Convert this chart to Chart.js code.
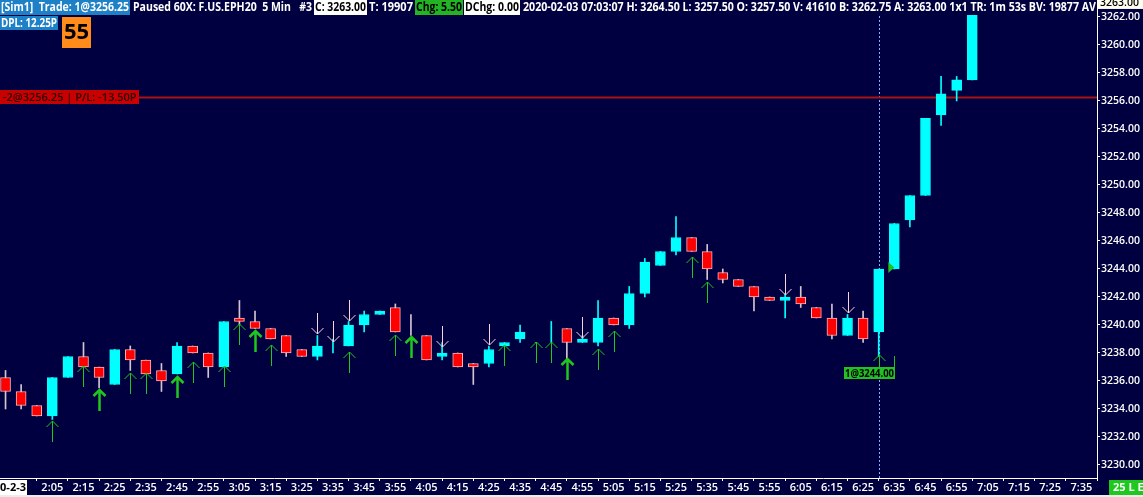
<!DOCTYPE html>
<html>
<head>
<meta charset="utf-8">
<script src="https://cdn.jsdelivr.net/npm/chart.js@4.4.1/dist/chart.umd.min.js"></script>
<style>
  html, body { margin: 0; padding: 0; background: #000040; overflow: hidden; }
  #wrap { width: 1143px; height: 497px; }
</style>
</head>
<body>
<div id="wrap"><canvas id="chart" width="1143" height="497"></canvas></div>
<script>
// 5 minute bar slots shown on the x axis
const times = [
  '1:50','1:55',
  '2:00','2:05','2:10','2:15','2:20','2:25','2:30','2:35','2:40','2:45','2:50','2:55',
  '3:00','3:05','3:10','3:15','3:20','3:25','3:30','3:35','3:40','3:45','3:50','3:55',
  '4:00','4:05','4:10','4:15','4:20','4:25','4:30','4:35','4:40','4:45','4:50','4:55',
  '5:00','5:05','5:10','5:15','5:20','5:25','5:30','5:35','5:40','5:45','5:50','5:55',
  '6:00','6:05','6:10','6:15','6:20','6:25','6:30','6:35','6:40','6:45','6:50','6:55',
  '7:00','7:05','7:10','7:15','7:20','7:25','7:30','7:35','7:40'
];
const tickTimes = [
  '2:05','2:15','2:25','2:35','2:45','2:55','3:05','3:15','3:25','3:35','3:45','3:55',
  '4:05','4:15','4:25','4:35','4:45','4:55','5:05','5:15','5:25','5:35','5:45','5:55',
  '6:05','6:15','6:25','6:35','6:45','6:55','7:05','7:15','7:25','7:35'
];
const priceTicks = [3230, 3232, 3234, 3236, 3238, 3240, 3242, 3244, 3246, 3248,
  3250, 3252, 3254, 3256, 3258, 3260, 3262];

// OHLC, one entry per bar starting at 1:50
const opens = [
  3236.25, 3235.25, 3234.25, 3233.5, 3236.25, 3237.75, 3237.0, 3235.75, 3238.25, 3237.5,
  3236.75, 3236.5, 3238.5, 3238.0, 3237.0, 3240.5, 3240.25, 3239.75, 3239.25, 3238.25,
  3237.75, 3238.75, 3238.5, 3240.0, 3240.75, 3241.25, 3239.25, 3239.25, 3237.75, 3238.0,
  3237.25, 3237.25, 3238.5, 3239.0, 3238.75, 3238.75, 3239.75, 3238.75, 3238.75, 3240.5,
  3240.0, 3242.25, 3244.25, 3245.25, 3246.25, 3245.25, 3243.75, 3243.25, 3242.75, 3242.0,
  3241.75, 3242.0, 3241.25, 3240.5, 3239.25, 3240.5, 3239.5, 3244.0, 3247.5, 3249.25,
  3255.0, 3256.75, 3257.5
];
const highs = [
  3236.75, 3235.75, 3234.25, 3236.25, 3237.75, 3238.75, 3237.0, 3238.25, 3238.5, 3237.5,
  3237.25, 3238.75, 3238.5, 3238.0, 3240.25, 3241.75, 3241.0, 3239.75, 3239.25, 3238.25,
  3239.25, 3239.0, 3240.25, 3241.0, 3241.0, 3241.5, 3240.75, 3239.25, 3238.75, 3238.0,
  3237.25, 3238.5, 3238.75, 3240.0, 3238.75, 3240.25, 3239.75, 3239.25, 3241.75, 3240.5,
  3242.75, 3244.75, 3245.25, 3247.75, 3246.25, 3245.75, 3244.0, 3243.25, 3242.75, 3242.0,
  3242.25, 3242.75, 3241.25, 3241.5, 3240.75, 3241.0, 3244.0, 3247.25, 3249.25, 3254.75,
  3257.75, 3257.75, 3264.5
];
const lows = [
  3234.0, 3234.0, 3233.5, 3233.25, 3236.25, 3237.0, 3235.5, 3235.75, 3236.75, 3236.5,
  3235.25, 3236.5, 3238.0, 3236.25, 3237.0, 3240.0, 3239.75, 3239.0, 3237.75, 3237.75,
  3237.5, 3238.0, 3238.5, 3239.5, 3240.75, 3239.5, 3239.25, 3237.5, 3237.5, 3237.0,
  3235.75, 3237.0, 3238.5, 3238.75, 3238.75, 3238.75, 3237.5, 3238.75, 3238.5, 3240.0,
  3239.75, 3242.0, 3244.25, 3245.0, 3245.25, 3243.25, 3243.0, 3242.75, 3241.0, 3241.75,
  3240.5, 3241.25, 3240.5, 3239.0, 3239.25, 3238.75, 3237.75, 3244.0, 3247.0, 3249.25,
  3254.25, 3256.0, 3257.5
];
const closes = [
  3235.25, 3234.25, 3233.5, 3236.25, 3237.75, 3237.0, 3236.25, 3238.25, 3237.5, 3236.5,
  3236.0, 3238.5, 3238.0, 3237.0, 3240.25, 3240.25, 3239.75, 3239.0, 3238.0, 3237.75,
  3238.5, 3238.75, 3240.0, 3240.75, 3241.0, 3239.5, 3239.25, 3237.5, 3238.0, 3237.0,
  3237.0, 3238.25, 3238.75, 3239.5, 3238.75, 3238.75, 3238.75, 3239.0, 3240.5, 3240.0,
  3242.25, 3244.5, 3245.25, 3246.25, 3245.25, 3244.0, 3243.25, 3242.75, 3242.0, 3241.75,
  3242.0, 3241.5, 3240.5, 3239.25, 3240.5, 3239.0, 3244.0, 3247.25, 3249.25, 3254.75,
  3256.5, 3257.5, 3263.0
];

// signal arrows: bar time and price at the arrow tip
const upArrowTimes = ['2:05','2:15','2:20','2:30','2:35','2:45','2:50','3:00','3:05','3:10',
  '3:15','3:40','3:55','4:00','4:30','4:40','4:45','4:50','5:00','5:05','5:30','5:35','6:30'];
const upArrowTips = [3233.15, 3237.05, 3235.35, 3236.6, 3236.6, 3236.3, 3237.35, 3237.05, 3240.1, 3239.6,
  3238.55, 3238.1, 3239.3, 3239.15, 3238.6, 3238.8, 3238.8, 3237.6, 3238.25, 3239.6, 3244.85, 3243.1, 3237.85];
const upArrowStrong = ['2:20','2:45','3:10','4:00','4:50'];
const downArrowTimes = ['3:30','3:35','3:40','4:10','4:25','4:55','6:00','6:20'];
const downArrowTips = [3239.35, 3238.8, 3240.3, 3238.45, 3238.6, 3239.1, 3242.15, 3240.85];

// trade info
const positionPrice = 3256.25;
const positionText = '-2@3256.25 | P/L: -13.50P';
const fillTime = '6:30';
const fillPrice = 3244.00;
const fillText = '1@3244.00';
const fillTipPrice = 3237.85;
const entryTime = '6:35';
const lastPrice = 3263.00;

const NAVY = '#000040';
const UP = '#00ffff';
const DOWN = '#ff0000';
const FONT = '"Open Sans", "Noto Sans", sans-serif';

function isUp(i) {
  if (closes[i] !== opens[i]) return closes[i] > opens[i];
  return i === 0 || closes[i] >= closes[i - 1];
}
const idx = t => times.indexOf(t);

const bodyData = opens.map((o, i) => ({ x: i, y: [o, closes[i]] }));
const wickData = opens.map((o, i) => ({ x: i, y: [lows[i], highs[i]] }));
const bodyColors = opens.map((o, i) => isUp(i) ? UP : DOWN);
const bodyBorders = opens.map((o, i) => isUp(i) ? UP : '#ffb4bc');
const wickColors = opens.map((o, i) => isUp(i) ? UP : '#d4c4d0');

const background = {
  id: 'background',
  beforeDraw(chart) {
    const ctx = chart.ctx;
    ctx.save();
    ctx.fillStyle = NAVY;
    ctx.fillRect(0, 0, chart.width, chart.height);
    ctx.fillStyle = '#ececec';
    ctx.fillRect(0, chart.height - 2, chart.width, 2);
    ctx.restore();
  }
};

const underlay = {
  id: 'underlay',
  beforeDatasetsDraw(chart) {
    const { ctx, chartArea: a, scales: { x, y } } = chart;
    ctx.save();
    // fill time marker
    const fx = Math.round(x.getPixelForValue(idx(fillTime))) + 0.5;
    ctx.strokeStyle = '#7fb2ff';
    ctx.lineWidth = 1;
    ctx.setLineDash([2, 2]);
    ctx.beginPath();
    ctx.moveTo(fx, a.top);
    ctx.lineTo(fx, a.bottom);
    ctx.stroke();
    ctx.setLineDash([]);
    // open position line
    const py = y.getPixelForValue(positionPrice);
    ctx.strokeStyle = '#a81414';
    ctx.lineWidth = 2;
    ctx.beginPath();
    ctx.moveTo(a.left, py);
    ctx.lineTo(a.right, py);
    ctx.stroke();
    ctx.restore();
  }
};

const overlay = {
  id: 'overlay',
  afterDatasetsDraw(chart) {
    const { ctx, scales: { x, y } } = chart;
    ctx.save();
    ctx.lineCap = 'butt';
    upArrowTimes.forEach((t, k) => {
      const px = Math.round(x.getPixelForValue(idx(t))) + 0.5;
      const py = Math.round(y.getPixelForValue(upArrowTips[k]));
      ctx.strokeStyle = '#1ec81e';
      ctx.lineWidth = upArrowStrong.includes(t) ? 2.5 : 1;
      ctx.beginPath();
      ctx.moveTo(px, py);
      ctx.lineTo(px, py + 21);
      ctx.moveTo(px - 6, py + 6);
      ctx.lineTo(px, py);
      ctx.lineTo(px + 6, py + 6);
      ctx.stroke();
    });
    downArrowTimes.forEach((t, k) => {
      const px = Math.round(x.getPixelForValue(idx(t))) + 0.5;
      const py = Math.round(y.getPixelForValue(downArrowTips[k]));
      ctx.strokeStyle = '#ffd2e2';
      ctx.lineWidth = 1;
      ctx.beginPath();
      ctx.moveTo(px, py);
      ctx.lineTo(px, py - 21);
      ctx.moveTo(px - 6, py - 6);
      ctx.lineTo(px, py);
      ctx.lineTo(px + 6, py - 6);
      ctx.stroke();
    });

    // entry triangle
    const ex = x.getPixelForValue(idx(entryTime));
    const ey = y.getPixelForValue(fillPrice);
    ctx.fillStyle = '#22c022';
    ctx.beginPath();
    ctx.moveTo(ex - 6, ey - 7);
    ctx.lineTo(ex - 6, ey + 4);
    ctx.lineTo(ex, ey - 1.5);
    ctx.closePath();
    ctx.fill();

    // fill label with flag pole
    const tipY = y.getPixelForValue(fillTipPrice);
    const right = Math.round(ex) + 1;
    const top = Math.round(tipY) + 12;
    ctx.strokeStyle = '#22c022';
    ctx.lineWidth = 1;
    ctx.beginPath();
    ctx.moveTo(right - 0.5, tipY + 1);
    ctx.lineTo(right - 0.5, top);
    ctx.stroke();
    ctx.fillStyle = '#22c022';
    ctx.fillRect(right - 51, top, 51, 12);
    ctx.fillStyle = '#000';
    ctx.font = 'bold 11px ' + FONT;
    ctx.textAlign = 'center';
    ctx.textBaseline = 'middle';
    ctx.fillText(fillText, right - 25.5, top + 6.5, 49);

    // position label
    const py = y.getPixelForValue(positionPrice);
    ctx.fillStyle = '#c80000';
    ctx.fillRect(0, Math.round(py) - 7, 139, 14);
    ctx.fillStyle = '#2a0000';
    ctx.font = '600 11px ' + FONT;
    ctx.textAlign = 'left';
    ctx.fillText(positionText, 3, Math.round(py) + 0.5, 134);
    ctx.restore();
  }
};

function box(ctx, x0, y0, w, h, bg, fg, text, font) {
  if (bg) {
    ctx.fillStyle = bg;
    ctx.fillRect(x0, y0, w, h);
  }
  ctx.fillStyle = fg;
  ctx.font = font;
  ctx.textAlign = 'left';
  ctx.textBaseline = 'middle';
  ctx.fillText(text, x0 + 1, y0 + h / 2 + 0.5, w - 2);
}

const header = {
  id: 'header',
  afterDraw(chart) {
    const { ctx, chartArea: a, scales: { y } } = chart;
    const f = 'bold 12px ' + FONT;
    ctx.save();
    ctx.fillStyle = NAVY;
    ctx.fillRect(0, 0, a.right, 15);
    box(ctx, 0, 0, 130, 15, '#1e80c6', '#ffffff', '[Sim1]  Trade: 1@3256.25', f);
    box(ctx, 132, 0, 181, 15, null, '#ffffff', 'Paused 60X: F.US.EPH20  5 Min   #3', f);
    box(ctx, 314, 0, 53, 15, '#ffffff', '#000000', 'C: 3263.00', f);
    box(ctx, 368, 0, 46, 15, null, '#ffffff', 'T: 19907', f);
    box(ctx, 415, 0, 48, 15, '#22b422', '#000000', 'Chg: 5.50', f);
    box(ctx, 464, 0, 56, 15, '#ffffff', '#000000', 'DChg: 0.00', f);
    box(ctx, 522, 0, 575, 15, null, '#ffffff',
      '2020-02-03 07:03:07 H: 3264.50 L: 3257.50 O: 3257.50 V: 41610 B: 3262.75 A: 3263.00 1x1 TR: 1m 53s BV: 19877 AV', f);
    box(ctx, 0, 16, 58, 14, '#1e80c6', '#ffffff', 'DPL: 12.25P', f);
    ctx.fillStyle = '#ff8c1a';
    ctx.fillRect(62, 17, 29, 31);
    ctx.fillStyle = '#000';
    ctx.font = 'bold 22px ' + FONT;
    ctx.textAlign = 'center';
    ctx.textBaseline = 'middle';
    ctx.fillText('55', 76.5, 33);

    // last price on the axis
    const ly = y.getPixelForValue(lastPrice);
    ctx.fillStyle = '#fffff0';
    ctx.fillRect(a.right + 1, ly - 7, chart.width - a.right - 1, 13);
    ctx.fillStyle = '#000';
    ctx.font = '600 10.5px ' + FONT;
    ctx.textAlign = 'left';
    ctx.fillText(lastPrice.toFixed(2), a.right + 3, ly);

    // date and status boxes on the time axis
    ctx.fillStyle = '#ffffff';
    ctx.fillRect(0, a.bottom + 2, 27, 15);
    ctx.fillStyle = '#000';
    ctx.font = 'bold 11px ' + FONT;
    ctx.textAlign = 'right';
    ctx.fillText('2020-2-3', 26, a.bottom + 10);
    ctx.fillStyle = '#1ec81e';
    ctx.fillRect(1109, a.bottom + 2, chart.width - 1109, 15);
    ctx.fillStyle = '#fff';
    ctx.textAlign = 'left';
    ctx.fillText('25 L E', 1113, a.bottom + 10);
    ctx.restore();
  }
};

new Chart(document.getElementById('chart'), {
  type: 'bar',
  data: {
    datasets: [
      {
        data: wickData,
        backgroundColor: wickColors,
        borderWidth: 0,
        barThickness: 1,
        grouped: false,
        order: 2
      },
      {
        data: bodyData,
        backgroundColor: bodyColors,
        borderColor: bodyBorders,
        borderWidth: 1,
        borderSkipped: false,
        barThickness: 10,
        minBarLength: 0,
        grouped: false,
        order: 1
      }
    ]
  },
  options: {
    responsive: false,
    animation: false,
    events: [],
    layout: { padding: 0 },
    plugins: { legend: { display: false }, tooltip: { enabled: false } },
    scales: {
      x: {
        type: 'linear',
        min: -0.355,
        max: 70.0,
        offset: false,
        afterBuildTicks: s => { s.ticks = tickTimes.map(t => ({ value: idx(t) })); },
        afterFit: s => { s.height = 19; s.paddingLeft = 0; s.paddingRight = 0; },
        ticks: {
          color: '#ffffff',
          font: { family: FONT, size: 11, weight: '600' },
          padding: 0,
          maxRotation: 0,
          autoSkip: false,
          callback: v => times[v]
        },
        grid: { drawOnChartArea: false, drawTicks: true, tickLength: 3, color: '#ffffff' },
        border: { display: true, color: '#ffffff', width: 1 }
      },
      y: {
        position: 'right',
        min: 3229.07,
        max: 3263.21,
        afterBuildTicks: s => { s.ticks = priceTicks.map(v => ({ value: v })); },
        afterFit: s => { s.width = 46; s.paddingTop = 0; s.paddingBottom = 0; },
        ticks: {
          color: '#ffffff',
          font: { family: FONT, size: 10.5, weight: '600' },
          padding: 1,
          callback: v => v.toFixed(2)
        },
        grid: { drawOnChartArea: false, drawTicks: true, tickLength: 3, color: '#ffffff' },
        border: { display: true, color: '#ffffff', width: 1 }
      }
    }
  },
  plugins: [background, underlay, overlay, header]
});
</script>
</body>
</html>
